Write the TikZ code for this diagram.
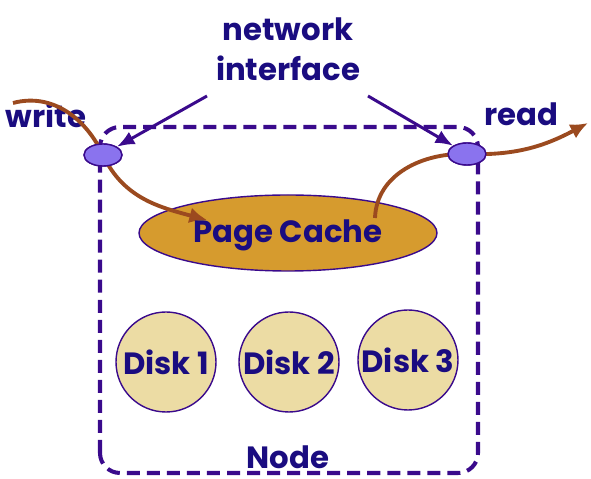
\documentclass[tikz,border=0pt]{standalone}
\usepackage{fontspec}
\setmainfont{Poppins}[BoldFont={Poppins Bold}]
\usepackage{tikz}
\usetikzlibrary{arrows.meta,shapes.geometric}
\definecolor{inkblue}{HTML}{1A0C80}
\definecolor{edgepurple}{HTML}{3A0A8C}
\definecolor{ifacefill}{HTML}{8A73EE}
\definecolor{cachefill}{HTML}{D69B2E}
\definecolor{diskfill}{HTML}{ECDCA4}
\definecolor{flowbrown}{HTML}{9B4A1F}
\tikzstyle{label}=[text=inkblue, font=\bfseries\fontsize{17.5}{23}\selectfont]
\tikzstyle{iface}=[ellipse, draw=edgepurple, line width=0.8pt, fill=ifacefill, minimum width=0.76cm, minimum height=0.44cm, inner sep=0pt]
\tikzstyle{disk}=[circle, draw=edgepurple, line width=0.8pt, fill=diskfill, minimum size=2cm, inner sep=0pt, label]
\tikzstyle{flow}=[draw=flowbrown, line width=2.2pt, -{Latex[length=10pt,width=9pt]}]
\tikzstyle{point}=[draw=edgepurple, line width=1.7pt, -{Latex[length=10pt,width=8pt]}]

\begin{document}
\begin{tikzpicture}
   \useasboundingbox (0,0) rectangle (11.82,9.58);
   % the node box
   \draw[edgepurple, line width=2.3pt, dash pattern=on 7.4pt off 4pt, rounded corners=0.4cm] (2.0,0.12) rectangle (9.56,7.04);
   \node[label] (nodetext) at (5.76,0.44) {Node};

   % cache and disks
   \node[ellipse, draw=edgepurple, line width=0.8pt, fill=cachefill, minimum width=5.96cm, minimum height=1.52cm] (cache) at (5.76,4.92) {};
   \node[disk] (d1) at (3.32,2.34) {Disk 1};
   \node[disk] (d2) at (5.78,2.34) {Disk 2};
   \node[disk] (d3) at (8.16,2.38) {Disk 3};

   % network interfaces
   \node[iface] (lif) at (2.06,6.48) {};
   \node[iface] (rif) at (9.34,6.5) {};
   \node[label, align=center] (net) at (5.76,8.6) {network\\interface};
   \node[label] (wr) at (0.92,7.28) {write};
   \node[label] (rd) at (10.42,7.3) {read};

   \coordinate (netl) at (4.14,7.66);
   \coordinate (netr) at (7.36,7.66);
   \draw[point] (netl) -- (lif.north east);
   \draw[point] (netr) -- (rif.north west);

   % data flow
   \coordinate (wstart) at (0.26,7.52);
   \coordinate (wend) at (4.14,5.18);
   \coordinate (rstart) at (7.5,5.22);
   \coordinate (rend) at (11.76,7.12);
   \draw[flow] (wstart) to[out=15,in=115] (lif.center) to[out=-65,in=165] (wend);
   \draw[flow] (rstart) to[out=88,in=178] (rif.center) to[out=-2,in=208] (rend);
   \node[iface] at (lif) {};
   \node[iface] at (rif) {};
   \node[label] (pc) at (5.76,4.88) {Page Cache};
\end{tikzpicture}
\end{document}
